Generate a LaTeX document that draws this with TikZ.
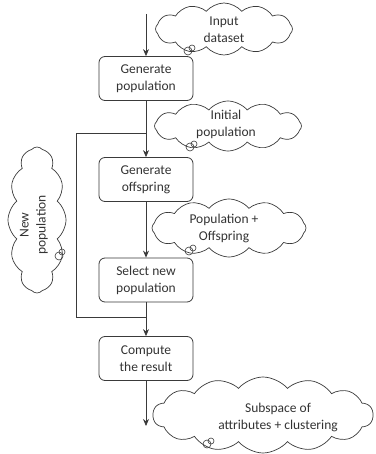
\documentclass[tikz,border=0pt]{standalone}
\usepackage{fontspec}
\setmainfont{Carlito}
\usetikzlibrary{shapes.symbols,arrows.meta}
\definecolor{ln}{HTML}{3A3A3A}
\definecolor{tx}{HTML}{333333}
\begin{document}
\begin{tikzpicture}[x=1pt,y=-1pt,
  every node/.style={font=\fontsize{13.5}{17}\selectfont, text=tx},
  stepbox/.style={draw=ln, line width=0.8pt, rounded corners=6pt, minimum width=94pt, minimum height=44pt, align=center, inner sep=0pt},
  thought/.style={cloud, cloud puffs=12, cloud puff arc=100, cloud ignores aspect, draw=ln, line width=0.7pt, align=center, inner sep=0pt},
  lbl/.style={align=center, inner sep=0pt},
  conn/.style={draw=ln, line width=0.8pt},
  arr/.style={conn, -{Stealth[length=7pt,width=6pt]}},
  bub/.style={draw=ln, line width=0.6pt, circle, inner sep=0pt, minimum size=8pt}
]
\useasboundingbox (0,0) rectangle (375,454);

% clouds
\node[thought, minimum width=137pt, minimum height=52pt] (c1) at (224,29) {};
\node[lbl] at (224,30) (t1) {Input\\dataset};
\node[thought, minimum width=147pt, minimum height=50pt] (c2) at (228,126) {};
\node[lbl] at (226,124) (t2) {Initial\\population};
\node[thought, minimum width=154pt, minimum height=58pt] (c3) at (229,228) {};
\node[lbl] at (224,228) (t3) {Population +\\Offspring};
\node[thought, cloud puffs=14, minimum width=220pt, minimum height=76pt] (c4) at (263,415) {};
\node[lbl] at (278,417) (t4) {Subspace of\\attributes + clustering};
\node[thought, cloud puffs=12, minimum width=58pt, minimum height=146pt] (c5) at (37,220) {};
\node[lbl, rotate=90] at (34,225) (t5) {New\\population};

% small bubbles
\node[bub] (b1a) at (188,51) {};
\node[bub, minimum size=6pt] (b1b) at (192,48) {};
\node[bub] (b2a) at (190,147) {};
\node[bub, minimum size=6pt] (b2b) at (194,144) {};
\node[bub] (b3a) at (189,251) {};
\node[bub, minimum size=6pt] (b3b) at (193,248) {};
\node[bub] (b5a) at (59,256) {};
\node[bub, minimum size=6pt] (b5b) at (62,252) {};
\node[bub] (b4a) at (207,444) {};
\node[bub, minimum size=6pt] (b4b) at (211,441) {};

% boxes
\node[stepbox] (gp) at (146,78.5) {Generate\\population};
\node[stepbox] (go) at (146,179.5) {Generate\\offspring};
\node[stepbox] (sp) at (146,280) {Select new\\population};
\node[stepbox] (cr) at (146,358.5) {Compute\\the result};

% coordinates
\coordinate (start) at (146,14);
\coordinate (end) at (146,426);
\coordinate (j1) at (146,317);
\coordinate (j2) at (146,133);
\coordinate (l1) at (76,317);
\coordinate (l2) at (76,133);

% connectors
\draw[arr] (start) -- (gp);
\draw[arr] (gp) -- (go);
\draw[arr] (go) -- (sp);
\draw[arr] (sp) -- (cr);
\draw[arr] (cr) -- (end);
\draw[conn] (j1) -- (l1) -- (l2) -- (j2);
\end{tikzpicture}
\end{document}
